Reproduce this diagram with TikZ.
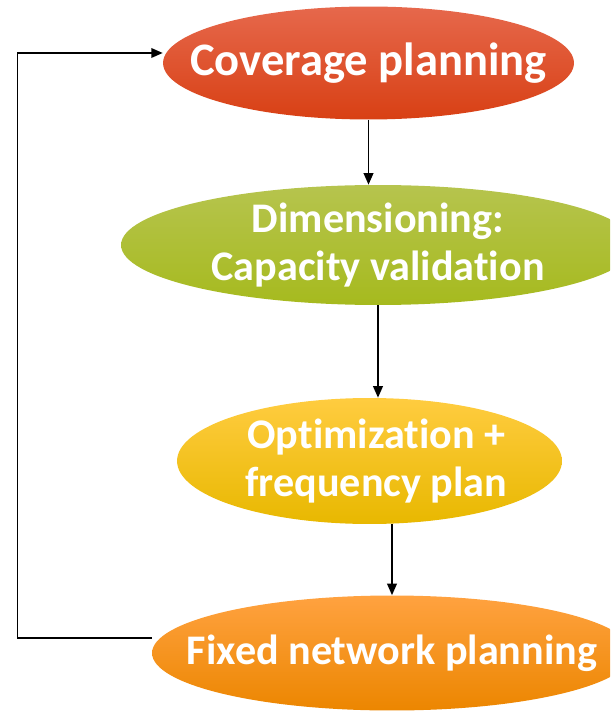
\documentclass[tikz,border=0pt]{standalone}
\usepackage{fontspec}
\setmainfont[Ligatures=NoCommon]{Carlito}
\usetikzlibrary{shapes.geometric,arrows.meta,calc}

\definecolor{covtop}{RGB}{230,104,76}
\definecolor{covbot}{RGB}{216,64,20}
\definecolor{dimtop}{RGB}{182,196,78}
\definecolor{dimbot}{RGB}{166,186,30}
\definecolor{opttop}{RGB}{255,204,64}
\definecolor{optbot}{RGB}{232,184,0}
\definecolor{fixtop}{RGB}{255,162,64}
\definecolor{fixbot}{RGB}{236,134,0}

\tikzset{
  stage/.style={ellipse, inner sep=0pt, draw=none},
  stagetext/.style={text=white, font=\bfseries\fontsize{24}{27}\selectfont, align=center},
  flow/.style={-{Triangle[length=6.5pt,width=5.5pt]}, line width=0.85pt, black}
}

\begin{document}
\begin{tikzpicture}[x=0.02cm, y=-0.02cm]
        \clip (0,0) rectangle (610,712);

        % Stages of the planning loop
        \node[stage, top color=covtop, bottom color=covbot, minimum width=8.22cm, minimum height=2.26cm,
              label={[stagetext, name=covtxt, font=\bfseries\fontsize{26.5}{30}\selectfont]center:Coverage planning}] (cov) at (368.5,63) {};
        \node[stage, top color=dimtop, bottom color=dimbot, minimum width=10.28cm, minimum height=2.4cm,
              label={[stagetext, name=dimtxt]center:Dimensioning:\\Capacity validation}] (dim) at (378,245) {};
        \node[stage, top color=opttop, bottom color=optbot, minimum width=7.7cm, minimum height=2.52cm,
              label={[stagetext, name=opttxt, xshift=0.14cm]center:Optimization +\\frequency plan}] (opt) at (369.5,461) {};
        \node[stage, top color=fixtop, bottom color=fixbot, minimum width=9.6cm, minimum height=2.3cm,
              label={[stagetext, name=fixtxt]center:Fixed network planning}] (fix) at (392,653) {};

        % Arrows down the chain
        \draw[flow] (cov.south) -- (cov.south |- dim.north);
        \draw[flow] (dim.south) -- (dim.south |- opt.north);
        \draw[flow] (fix.north |- opt.south) -- (fix.north);

        % Feedback to the start
        \draw[flow] ($(fix.west)+(0,-15)$) -- ($(fix.west)+(-134,-15)$) |- ($(cov.west)+(0,-10)$);
      \end{tikzpicture}
\end{document}
